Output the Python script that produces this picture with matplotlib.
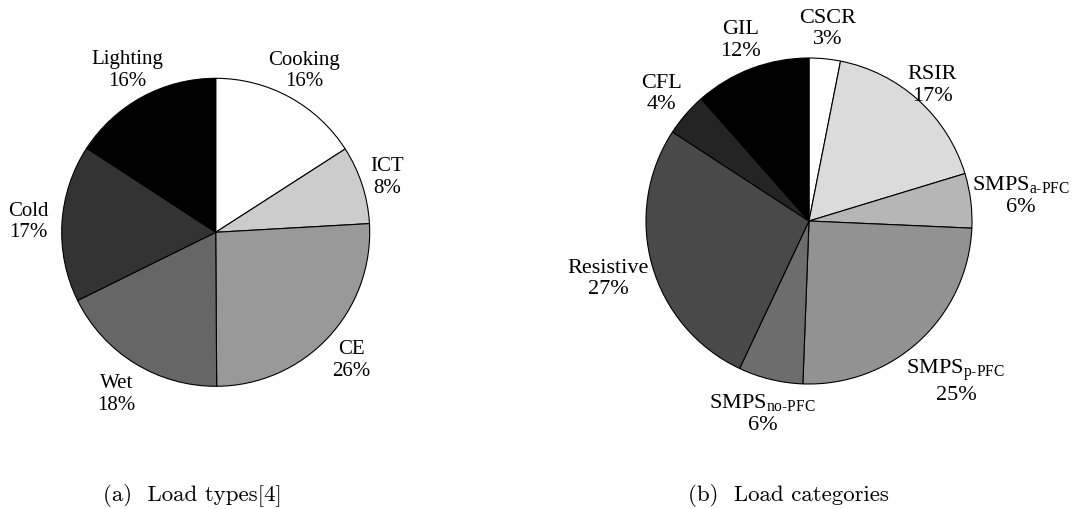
import numpy as np
import matplotlib.pyplot as plt

plt.rcParams['font.family'] = ['Liberation Serif', 'DejaVu Serif']
plt.rcParams['mathtext.fontset'] = 'custom'
plt.rcParams['mathtext.rm'] = 'Liberation Serif'
plt.rcParams['mathtext.it'] = 'Liberation Serif:italic'

# (a) load types
type_names = ['Cooking', 'ICT', 'CE', 'Wet', 'Cold', 'Lighting']
type_shares = [15.9, 8.2, 25.8, 17.8, 16.5, 15.8]
type_pct = [16, 8, 26, 18, 17, 16]
type_grays = ['#ffffff', '#cccccc', '#999999', '#666666', '#333333', '#000000']

# (b) load categories
cat_names = ['CSCR', 'RSIR', r'SMPS$_{\text{a-PFC}}$', r'SMPS$_{\text{p-PFC}}$',
             r'SMPS$_{\text{no-PFC}}$', 'Resistive', 'CFL', 'GIL']
cat_shares = [3.1, 17.2, 5.4, 24.9, 6.4, 27.2, 4.3, 11.5]
cat_pct = [3, 17, 6, 25, 6, 27, 4, 12]
cat_grays = ['#ffffff', '#dbdbdb', '#b6b6b6', '#929292', '#6d6d6d', '#494949', '#242424', '#000000']

# label distance (in pie radii) for each wedge
type_dist = [1.2, 1.17, 1.21, 1.23, 1.22, 1.2]
cat_dist = [1.19, 1.13, 1.31, 1.33, 1.21, 1.28, 1.2, 1.19]

W, H = 1078, 510
fig = plt.figure(figsize=(W / 100, H / 100), dpi=100)


def pie_axes(cx, cy, r):
    return fig.add_axes([(cx - r) / W, (H - cy - r) / H, 2 * r / W, 2 * r / H])


def draw_pie(ax, shares, names, pct, grays, dist, fsize):
    wedges, _ = ax.pie(shares, colors=grays, startangle=90, counterclock=False,
                       wedgeprops=dict(edgecolor='black', linewidth=0.8))
    for w, name, p, d in zip(wedges, names, pct, dist):
        w.set_clip_on(False)
        mid = np.deg2rad((w.theta1 + w.theta2) / 2)
        ax.text(d * np.cos(mid), d * np.sin(mid), '%s\n%d%%' % (name, p),
                ha='center', va='center', multialignment='center', fontsize=fsize)
    ax.set_xlim(-1, 1)
    ax.set_ylim(-1, 1)
    ax.set_axis_off()


ax1 = pie_axes(215.7, 233.3, 154)
draw_pie(ax1, type_shares, type_names, type_pct, type_grays, type_dist, 15)

ax2 = pie_axes(809, 222, 163)
draw_pie(ax2, cat_shares, cat_names, cat_pct, cat_grays, cat_dist, 16)

fig.text(192 / W, 1 - 496 / H, '(a)  Load types[4]', family='cmr10',
         fontsize=16.5, ha='center', va='center')
fig.text(788 / W, 1 - 496 / H, '(b)  Load categories', family='cmr10',
         fontsize=16.5, ha='center', va='center')

fig.savefig('out.png', dpi=100)
